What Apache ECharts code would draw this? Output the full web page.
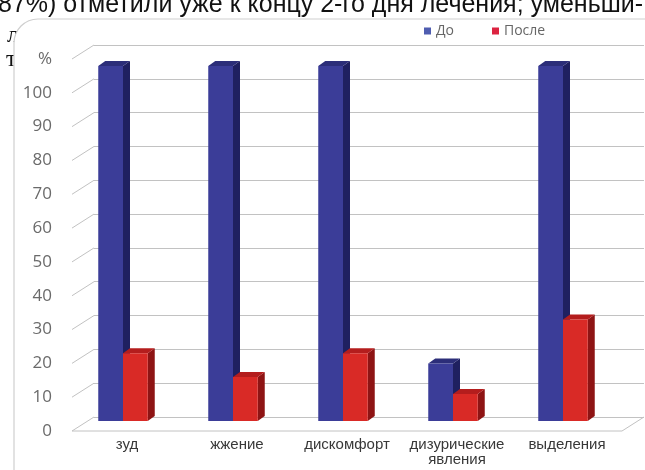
<!DOCTYPE html>
<html>
<head>
<meta charset="utf-8">
<script src="https://cdn.jsdelivr.net/npm/echarts@6/dist/echarts.min.js"></script>
<style>
  html, body { margin: 0; padding: 0; background: #ffffff; }
  #chart { width: 645px; height: 470px; }
</style>
</head>
<body>
<div id="chart"></div>
<script>
// Symptom categories and share of patients (%) before / after treatment
const categories = ['зуд', 'жжение', 'дискомфорт', 'дизурические\nявления', 'выделения'];
const seriesNames = ['До', 'После'];
const valuesBefore = [105, 105, 105, 17, 105];
const valuesAfter = [20, 13, 20, 8, 30];

// Value axis: 0..110 step 10, the top tick shows the unit sign
const axisMin = 0;
const axisMax = 110;
const axisStep = 10;
const unitLabel = '%';
const tickValues = [0, 10, 20, 30, 40, 50, 60, 70, 80, 90, 100, 110];

// Page text fragments around the chart panel
const headerLine = '87%) отметили уже к концу 2-го дня лечения; уменьши-';

// 3D look: offset of the back wall, of the bar plane and of the bar depth
const WALL = { x: 22, y: -14 };
const PLANE = { x: -4, y: -10 };
const DEPTH = { x: 7, y: -5 };

const palette = [
  { legend: '#4f5db0', front: '#3b3d98', side: '#1f2060', top: '#2c2e79' },
  { legend: '#dc2340', front: '#d92a26', side: '#8e1414', top: '#b41d1d' }
];

function barRenderer(idx) {
  const c = palette[idx];
  return function (params, api) {
    const cat = api.value(0);
    const val = api.value(1);
    const base = api.coord([cat, 0]);
    const top = api.coord([cat, val]);
    const band = api.size([1, 0])[0];
    const w = band * 0.225;
    const x0 = base[0] + PLANE.x + (idx === 0 ? -w : 0);
    const y0 = base[1] + PLANE.y;
    const y1 = top[1] + PLANE.y;
    const dx = DEPTH.x, dy = DEPTH.y;
    return {
      type: 'group',
      children: [
        { type: 'polygon',
          shape: { points: [[x0 + w, y0], [x0 + w + dx, y0 + dy], [x0 + w + dx, y1 + dy], [x0 + w, y1]] },
          style: { fill: c.side } },
        { type: 'polygon',
          shape: { points: [[x0, y1], [x0 + dx, y1 + dy], [x0 + w + dx, y1 + dy], [x0 + w, y1]] },
          style: { fill: c.top } },
        { type: 'rect',
          shape: { x: x0, y: y1, width: w, height: y0 - y1 },
          style: { fill: c.front } }
      ]
    };
  };
}

// Slanted lines joining each tick on the front edge to the back wall
function tickRenderer(params, api) {
  const v = api.value(0);
  const y = api.coord([0, v])[1];
  const x = params.coordSys.x;
  return {
    type: 'line',
    shape: { x1: x, y1: y, x2: x + WALL.x, y2: y + WALL.y },
    style: { stroke: '#c2c2c2', lineWidth: 1 }
  };
}

// Floor outline: front edge and right edge going back to the wall
function floorRenderer(params, api) {
  const cs = params.coordSys;
  const y = api.coord([0, axisMin])[1];
  const xl = cs.x, xr = cs.x + cs.width;
  return {
    type: 'polyline',
    shape: { points: [[xl, y], [xr, y], [xr + WALL.x, y + WALL.y]] },
    style: { stroke: '#c2c2c2', lineWidth: 1, fill: null }
  };
}

const chart = echarts.init(document.getElementById('chart'), null, { renderer: 'canvas' });

chart.setOption({
  animation: false,
  backgroundColor: '#ffffff',
  textStyle: { fontFamily: 'Liberation Sans, Arial, sans-serif' },
  graphic: [
    { type: 'text', z: 0, left: 7, top: 24,
      style: { text: 'л', fontSize: 24, fill: '#111', fontFamily: 'Liberation Serif' } },
    { type: 'text', z: 0, left: 6, top: 48,
      style: { text: 'т', fontSize: 24, fill: '#111', fontFamily: 'Liberation Serif' } },
    { type: 'rect', z: 1,
      shape: { x: 14, y: 19, width: 680, height: 500, r: 24 },
      style: { fill: '#ffffff', stroke: '#cfcfcf', lineWidth: 1.2 } },
    { type: 'text', z: 2, x: -2, y: 18,
      style: { text: headerLine, fontSize: 25, fill: '#111', fontFamily: 'Liberation Sans',
               verticalAlign: 'bottom', align: 'left' } }
  ],
  legend: {
    data: seriesNames,
    left: 419,
    top: 19,
    z: 5,
    icon: 'rect',
    itemWidth: 7,
    itemHeight: 7,
    itemGap: 38,
    textStyle: { color: '#666', fontSize: 14, fontFamily: 'Open Sans' }
  },
  grid: [
    { left: 72, right: 23, top: 59, height: 372 },
    { left: 72 + WALL.x, right: 1, top: 59 + WALL.y, height: 372 }
  ],
  xAxis: [
    { type: 'category', gridIndex: 0, data: categories, z: 3,
      axisLine: { show: false }, axisTick: { show: false }, splitLine: { show: false },
      axisLabel: { color: '#383838', fontSize: 15, margin: 6, lineHeight: 15,
                   fontFamily: 'Liberation Sans', interval: 0 } },
    { type: 'category', gridIndex: 1, data: categories, show: false }
  ],
  yAxis: [
    { type: 'value', gridIndex: 0, min: axisMin, max: axisMax, interval: axisStep, z: 3,
      axisLine: { show: false }, axisTick: { show: false }, splitLine: { show: false },
      axisLabel: { color: '#6a6a6a', fontSize: 17, margin: 20, fontFamily: 'Open Sans',
                   formatter: v => (v === axisMax ? unitLabel : String(v)) } },
    { type: 'value', gridIndex: 1, min: axisMin, max: axisMax, interval: axisStep, z: 3,
      axisLine: { show: false }, axisTick: { show: false }, axisLabel: { show: false },
      splitLine: { show: true, lineStyle: { color: '#c2c2c2', width: 1 } } }
  ],
  series: [
    { type: 'custom', name: 'ticks', xAxisIndex: 0, yAxisIndex: 0, z: 4,
      renderItem: tickRenderer, data: tickValues.map(v => [v]), silent: true },
    { type: 'custom', name: 'floor', xAxisIndex: 0, yAxisIndex: 0, z: 4,
      renderItem: floorRenderer, data: [[0]], silent: true },
    { type: 'custom', name: seriesNames[0], xAxisIndex: 0, yAxisIndex: 0, z: 5,
      itemStyle: { color: palette[0].legend },
      renderItem: barRenderer(0),
      data: valuesBefore.map((v, i) => [i, v]) },
    { type: 'custom', name: seriesNames[1], xAxisIndex: 0, yAxisIndex: 0, z: 6,
      itemStyle: { color: palette[1].legend },
      renderItem: barRenderer(1),
      data: valuesAfter.map((v, i) => [i, v]) }
  ]
});
</script>
</body>
</html>
